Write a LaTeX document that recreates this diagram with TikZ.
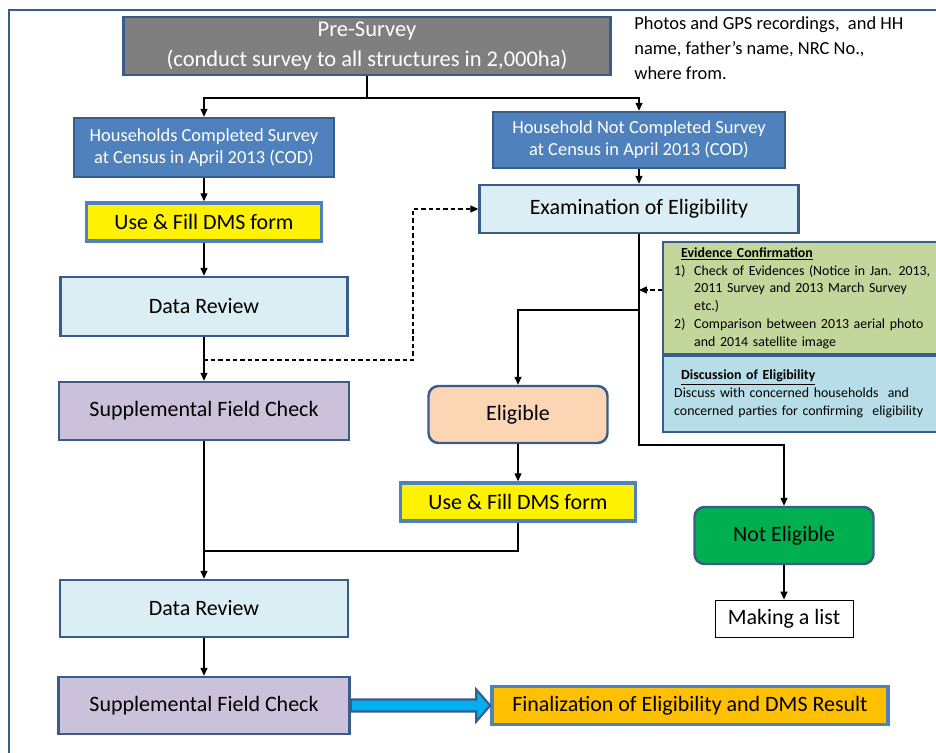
\documentclass[tikz,border=0pt]{standalone}
\usepackage{fontspec}
\setmainfont{Carlito}
\usetikzlibrary{arrows.meta,calc}

\newlength\pix
\setlength\pix{0.02cm}

\definecolor{edgeblue}{HTML}{385D8A}
\definecolor{accentblue}{HTML}{4F81BD}
\definecolor{presgray}{HTML}{7F7F7F}
\definecolor{paleblue}{HTML}{DBEEF4}
\definecolor{lilac}{HTML}{CCC1DA}
\definecolor{peach}{HTML}{FCD5B5}
\definecolor{leafgreen}{HTML}{00B050}
\definecolor{olive}{HTML}{C3D69B}
\definecolor{skyblue}{HTML}{B7DEE8}
\definecolor{amber}{HTML}{FFC000}
\definecolor{cyanblue}{HTML}{00B0F0}

\tikzset{
  box/.style={draw=edgeblue, line width=1.4pt, inner sep=0pt, align=center,
    font=\fontsize{12.5}{15}\selectfont},
  graybox/.style={box, fill=presgray, text=white, font=\fontsize{12.8}{17}\selectfont},
  bluebox/.style={box, fill=accentblue, text=white, font=\fontsize{10.5}{12.5}\selectfont},
  palebox/.style={box, fill=paleblue},
  lilacbox/.style={box, fill=lilac},
  formbox/.style={box, draw=accentblue, line width=2pt, fill=yellow},
  roundbox/.style={box, rounded corners=10\pix},
  listbox/.style={box, draw=black, line width=0.5pt, fill=white},
  notebox/.style={box, anchor=north west, align=left, text width=300\pix,
    inner xsep=11\pix, font=\fontsize{7.9}{10.2}\selectfont},
  flow/.style={line width=0.6pt, -{Triangle[length=4.5pt,width=4pt]}},
  dashflow/.style={flow, dash pattern=on 2.5pt off 1.7pt},
  frameline/.style={draw=edgeblue, line width=1.5pt},
  blockarrow/.style={draw=edgeblue, line width=1.2pt, fill=cyanblue}
}

\begin{document}
\begin{tikzpicture}[x=1\pix, y=-1\pix]
\useasboundingbox (0,0) rectangle (936,753);
\clip (0,0) rectangle (936,753);
\draw[frameline] (9,10) rectangle (1000,800);

% top
\node[graybox, minimum width=487\pix, minimum height=58\pix] (pre) at (367,46)
  {Pre-Survey\\(conduct survey to all structures in 2,000ha)};
\node[anchor=west, align=left, inner sep=0pt, font=\fontsize{10.5}{14.2}\selectfont] (note) at (634,48)
  {Photos and GPS recordings,\ \ and HH\\name, father’s name, NRC No.,\\where from.};

% left column
\node[bluebox, minimum width=260\pix, minimum height=59\pix] (hc) at (204,147.5)
  {Households Completed Survey\\at Census in April 2013 (COD)};
\node[formbox, minimum width=235\pix, minimum height=38\pix] (dms1) at (204,222) {Use \& Fill DMS form};
\node[palebox, minimum width=287\pix, minimum height=59\pix] (dr1) at (204,306.5) {Data Review};
\node[lilacbox, minimum width=290\pix, minimum height=58\pix] (sfc1) at (204,411) {Supplemental Field Check};
\node[palebox, minimum width=288\pix, minimum height=57\pix] (dr2) at (204,608.5) {Data Review};
\node[lilacbox, minimum width=291\pix, minimum height=57\pix] (sfc2) at (204,705.5) {Supplemental Field Check};

% right part
\node[bluebox, minimum width=292\pix, minimum height=56\pix] (hn) at (639,140)
  {Household Not Completed Survey\\at Census in April 2013 (COD)};
\node[palebox, minimum width=319\pix, minimum height=48\pix] (exam) at (639,209) {Examination of Eligibility};
\node[roundbox, fill=peach, minimum width=179\pix, minimum height=57\pix] (elig) at (518,414.5) {Eligible};
\node[formbox, minimum width=235\pix, minimum height=38\pix] (dms2) at (518,502) {Use \& Fill DMS form};
\node[roundbox, fill=leafgreen, minimum width=179\pix, minimum height=57\pix] (ne) at (784,535.5) {Not Eligible};
\node[listbox, minimum width=138\pix, minimum height=37\pix] (list) at (784,618.5) {Making a list};
\node[formbox, fill=amber, minimum width=396\pix, minimum height=38\pix] (final) at (690,705.5)
  {Finalization of Eligibility and DMS Result};

% side notes
\node[notebox, fill=olive, minimum height=112\pix] (evid) at (662,241)
  {\hspace*{7\pix}\underline{\textbf{Evidence Confirmation}}\\
   \makebox[20\pix][l]{1)}Check of Evidences (Notice in Jan. 2013,\\
   \hspace*{20\pix}2011 Survey and 2013 March Survey\\
   \hspace*{20\pix}etc.)\\
   \makebox[20\pix][l]{2)}Comparison between 2013 aerial photo\\
   \hspace*{20\pix}and 2014 satellite image};
\node[notebox, fill=skyblue, minimum height=76\pix] (disc) at (662,355)
  {\hspace*{7\pix}\underline{\textbf{Discussion of Eligibility}}\\
   Discuss with concerned households\ \ and\\
   concerned parties for confirming\ \ eligibility};

% connectors
\coordinate (fork) at (367,98);
\draw[line width=0.6pt] (pre.south) -- (fork);
\draw[flow] (fork) -| (hc.north);
\draw[flow] (fork) -| (hn.north);
\draw[flow] (hc) -- (dms1);
\draw[flow] (dms1) -- (dr1);
\draw[flow] (dr1) -- (sfc1);
\coordinate (loop) at (413,360);
\draw[dashflow] (dr1.south) |- (loop) |- (exam.west);
\draw[flow] (hn) -- (exam);
\coordinate (turn) at (639,445);
\draw[flow] (exam.south) -- (turn) -| (ne.north);
\coordinate (branch) at (639,310);
\draw[flow] (branch) -| (elig.north);
\coordinate (evin) at (639,290);
\draw[dashflow] (evid.west |- evin) -- (evin);
\draw[flow] (elig) -- (dms2);
\coordinate (join) at (204,551);
\draw[line width=0.6pt] (dms2.south) |- (join);
\draw[flow] (sfc1) -- (dr2);
\draw[flow] (dr2) -- (sfc2);
\draw[flow] (ne) -- (list);
\draw[blockarrow] ($(sfc2.east)+(0,-6)$) -- ($(final.west)+(-14,-6)$) -- ($(final.west)+(-14,-16)$)
  -- (final.west) -- ($(final.west)+(-14,16)$) -- ($(final.west)+(-14,6)$)
  -- ($(sfc2.east)+(0,6)$) -- cycle;
\end{tikzpicture}
\end{document}
